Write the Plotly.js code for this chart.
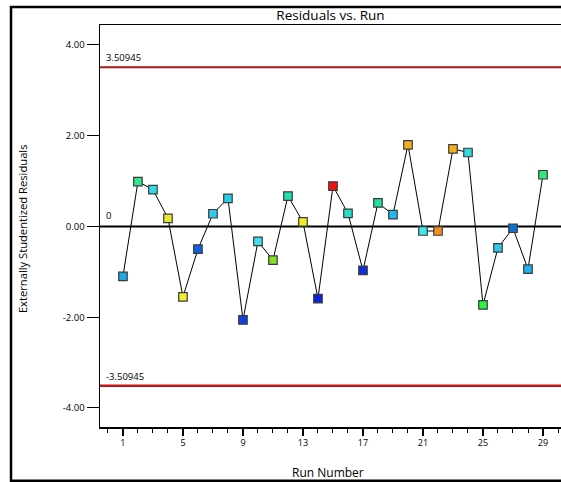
<!DOCTYPE html>
<html>
<head>
<meta charset="utf-8">
<script src="https://cdn.plot.ly/plotly-3.0.1.min.js"></script>
<style>html,body{margin:0;padding:0;background:#fff;}#chart{width:561px;height:482px;}</style>
</head>
<body>
<div id="chart"></div>
<script>
const runs = [1,2,3,4,5,6,7,8,9,10,11,12,13,14,15,16,17,18,19,20,21,22,23,24,25,26,27,28,29];
const residuals = [-1.10,0.99,0.81,0.18,-1.55,-0.50,0.28,0.62,-2.06,-0.33,-0.74,0.67,0.10,-1.59,0.89,0.29,-0.97,0.52,0.26,1.80,-0.10,-0.10,1.71,1.63,-1.73,-0.47,-0.04,-0.94,1.14];
const pointColors = ['#22a8e6','#30e890','#34d8e8','#e8e830','#f0f030','#1060e0','#30c8ea','#22d0e8','#1040e0','#40e0f0','#84e024','#22e0b0','#f0f020','#1020e0','#f01010','#22e0c8','#1030e0','#22e0a0','#22b8f0','#f0b020','#40e8f0','#f09020','#f0b020','#32d8e0','#30f040','#30c8e8','#1070d0','#22b0f0','#30e880'];
const limitUpper = 3.50945;
const limitLower = -3.50945;
const yTickVals = [4,2,0,-2,-4];
const yTickText = ['4.00','2.00','0.00','-2.00','-4.00'];
const xTickVals = [1,5,9,13,17,21,25,29];
const xTickText = ['1','5','9','13','17','21','25','29'];

const font = 'Open Sans, Noto Sans, DejaVu Sans, sans-serif';

const trace = {
  x: runs, y: residuals, type: 'scatter', mode: 'lines+markers',
  line: {color: '#000', width: 1},
  marker: {symbol: 'square', size: 8.5, color: pointColors, line: {color: '#3a3a3a', width: 1.2}},
  hoverinfo: 'x+y', showlegend: false
};

const layout = {
  width: 561, height: 482,
  margin: {l: 100, r: 0, t: 25, b: 55, pad: 0},
  paper_bgcolor: '#fff', plot_bgcolor: '#fff',
  font: {family: font, color: '#000'},
  title: {text: 'Residuals vs. Run', font: {family: font, size: 13.5, color: '#000'},
          xref: 'paper', x: 0.5, xanchor: 'center', yref: 'container', y: 0.969, yanchor: 'middle'},
  xaxis: {
    range: [-0.53, 30.2], showgrid: false, zeroline: false,
    showline: true, linecolor: '#000', linewidth: 1.5, mirror: true,
    tickmode: 'array', tickvals: xTickVals, ticktext: xTickText,
    ticks: 'outside', ticklen: 7, tickwidth: 2, tickcolor: '#000',
    minor: {tickmode: 'linear', tick0: 1, dtick: 1, ticks: 'outside', ticklen: 4, tickwidth: 1, tickcolor: '#000', showgrid: false},
    tickfont: {family: font, size: 9, color: '#000'}
  },
  yaxis: {
    range: [-4.42, 4.44], showgrid: false, zeroline: false,
    showline: true, linecolor: '#000', linewidth: 1.5,
    tickmode: 'array', tickvals: yTickVals, ticktext: yTickText,
    ticks: 'outside', ticklen: 12, tickwidth: 1, tickcolor: '#000',
    tickfont: {family: font, size: 9.5, color: '#000'}
  },
  shapes: [
    {type: 'rect', xref: 'paper', yref: 'paper', x0: -0.193, x1: 1.05, y0: -0.134, y1: 1.045, line: {color: '#000', width: 2.5}, fillcolor: 'rgba(0,0,0,0)', layer: 'below'},
    {type: 'line', xref: 'paper', yref: 'y', x0: 0, x1: 1, y0: limitUpper, y1: limitUpper, line: {color: '#a81818', width: 2}},
    {type: 'line', xref: 'paper', yref: 'y', x0: 0, x1: 1, y0: limitLower, y1: limitLower, line: {color: '#cc1414', width: 2.5}},
    {type: 'line', xref: 'paper', yref: 'y', x0: 0, x1: 1, y0: 0, y1: 0, line: {color: '#000', width: 2}, layer: 'below'}
  ],
  annotations: [
    {xref: 'paper', yref: 'y', x: 0.008, y: limitUpper, text: String(limitUpper), showarrow: false, xanchor: 'left', yanchor: 'bottom', yshift: 1, font: {family: font, size: 9.5, color: '#000'}},
    {xref: 'paper', yref: 'y', x: 0.008, y: 0, text: '0', showarrow: false, xanchor: 'left', yanchor: 'bottom', yshift: 2, font: {family: font, size: 9.5, color: '#000'}},
    {xref: 'paper', yref: 'y', x: 0.008, y: limitLower, text: String(limitLower), showarrow: false, xanchor: 'left', yanchor: 'bottom', yshift: 1, font: {family: font, size: 9.5, color: '#000'}},
    {xref: 'paper', yref: 'paper', x: -0.169, y: 0.4925, text: 'Externally Studentized Residuals', textangle: -90, showarrow: false, xanchor: 'center', yanchor: 'middle', font: {family: font, size: 11.2, color: '#000'}},
    {xref: 'paper', yref: 'paper', x: 0.495, y: -0.114, text: 'Run Number', showarrow: false, xanchor: 'center', yanchor: 'middle', font: {family: font, size: 12, color: '#000'}}
  ]
};

Plotly.newPlot('chart', [trace], layout, {displayModeBar: false, staticPlot: true});
</script>
</body>
</html>
